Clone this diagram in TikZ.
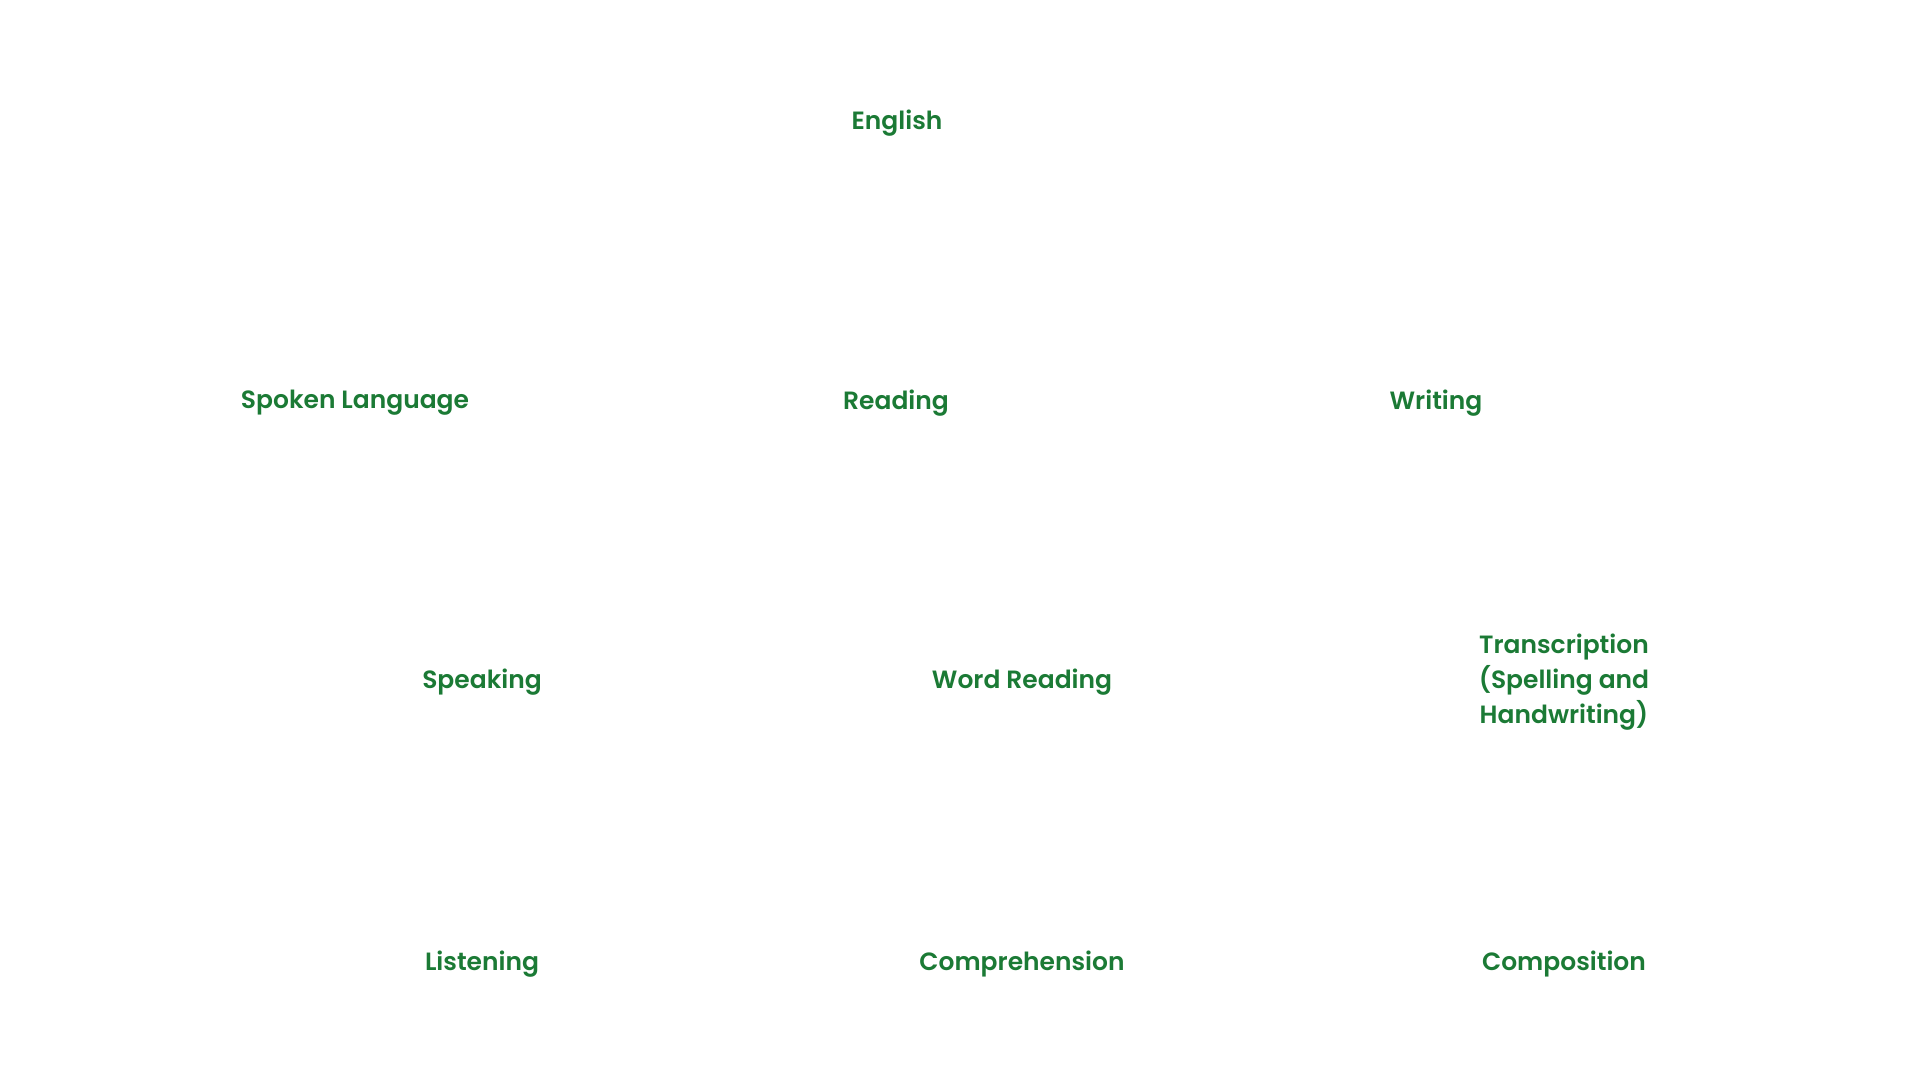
\documentclass[tikz,border=0pt]{standalone}
\usepackage{fontspec}
\setmainfont{Poppins}[UprightFont=* Medium, BoldFont=* SemiBold]
\definecolor{leafgreen}{HTML}{1B7A35}

\begin{document}
\begin{tikzpicture}[x=0.01cm,y=-0.01cm,every node/.style={text=leafgreen,font=\fontsize{7.1}{9.9}\selectfont\bfseries,align=center,inner sep=0pt}]
            \useasboundingbox (0,0) rectangle (1920,1080);
            \node (english) at (897,123) {English};
            \node (spoken) at (355,403) {Spoken Language};
            \node (reading) at (896,403) {Reading};
            \node (writing) at (1436,403) {Writing};
            \node (speaking) at (482,682) {Speaking};
            \node (wordreading) at (1022,682) {Word Reading};
            \node (transcription) at (1564,682) {Transcription\\(Spelling and\\Handwriting)};
            \node (listening) at (482,964) {Listening};
            \node (comprehension) at (1022,964) {Comprehension};
            \node (composition) at (1564,964) {Composition};
        \end{tikzpicture}
\end{document}
